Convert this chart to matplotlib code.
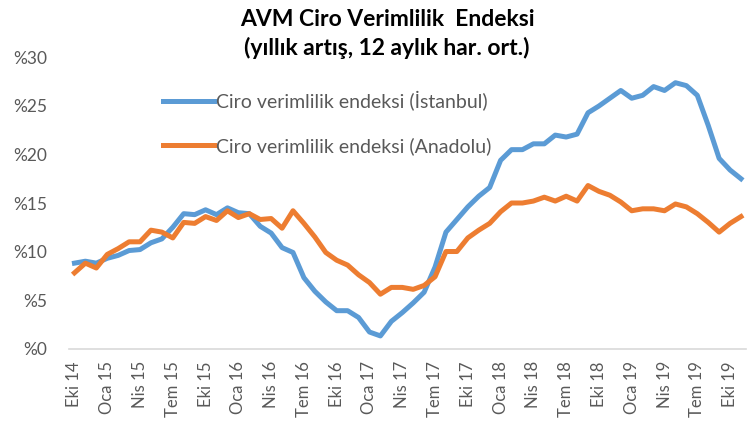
import numpy as np
import matplotlib
matplotlib.use("Agg")
import matplotlib.pyplot as plt

# monthly data, Eki 14 .. Kas 19
istanbul = [8.8, 9.0, 8.8, 9.3, 9.6, 10.1, 10.2, 10.9, 11.3, 12.5,
            13.9, 13.8, 14.3, 13.8, 14.5, 14.0, 13.9, 12.6, 11.9, 10.4,
            9.9, 7.3, 5.9, 4.8, 3.9, 3.9, 3.2, 1.7, 1.3, 2.8,
            3.7, 4.7, 5.8, 8.4, 12.0, 13.3, 14.6, 15.7, 16.6, 19.4,
            20.5, 20.5, 21.1, 21.1, 22.0, 21.8, 22.1, 24.3, 25.0, 25.8,
            26.6, 25.8, 26.1, 27.0, 26.6, 27.4, 27.1, 26.1, 23.0, 19.6,
            18.4, 17.5]
anadolu = [7.8, 8.8, 8.3, 9.7, 10.3, 11.0, 11.0, 12.2, 12.0, 11.4,
           13.0, 12.9, 13.6, 13.2, 14.2, 13.5, 13.9, 13.3, 13.4, 12.4,
           14.2, 12.9, 11.5, 9.9, 9.1, 8.6, 7.6, 6.8, 5.6, 6.3,
           6.3, 6.1, 6.5, 7.4, 10.0, 10.0, 11.4, 12.2, 12.9, 14.1,
           15.0, 15.0, 15.2, 15.6, 15.2, 15.7, 15.2, 16.8, 16.2, 15.8,
           15.1, 14.2, 14.4, 14.4, 14.2, 14.9, 14.6, 13.9, 13.0, 12.0,
           12.9, 13.6]
tick_labels = ["Eki 14", "Oca 15", "Nis 15", "Tem 15", "Eki 15", "Oca 16",
               "Nis 16", "Tem 16", "Eki 16", "Oca 17", "Nis 17", "Tem 17",
               "Eki 17", "Oca 18", "Nis 18", "Tem 18", "Eki 18", "Oca 19",
               "Nis 19", "Tem 19", "Eki 19"]
y_ticks = [0, 5, 10, 15, 20, 25, 30]

plt.rcParams['font.family'] = ['Lato', 'DejaVu Sans']
gray = "#595959"

fig = plt.figure(figsize=(7.54, 4.29), dpi=100)
ax = fig.add_axes([0.0915, 0.1876, 0.8985, 0.6784])

x = np.arange(len(istanbul))
ax.plot(x, istanbul, color="#5B9BD5", lw=3.6, solid_joinstyle="round",
        label="Ciro verimlilik endeksi (İstanbul)")
ax.plot(x, anadolu, color="#ED7D31", lw=3.6, solid_joinstyle="round",
        label="Ciro verimlilik endeksi (Anadolu)")

ax.set_xlim(-0.5, len(istanbul) - 0.5)
ax.set_ylim(0, 30)
ax.set_xticks(x[::3])
ax.set_xticklabels(tick_labels, rotation=90, fontsize=12, color=gray)
ax.set_yticks(y_ticks)
ax.set_yticklabels(["%" + str(v) for v in y_ticks], fontsize=12.5, color=gray)
ax.tick_params(axis="both", length=0)
ax.tick_params(axis="y", pad=16)
ax.tick_params(axis="x", pad=9)

for s in ["top", "right", "left"]:
    ax.spines[s].set_visible(False)
ax.spines["bottom"].set_color("#d9d9d9")
ax.spines["bottom"].set_linewidth(1.2)

leg = ax.legend(loc="upper left", bbox_to_anchor=(163 / 754, 1 - 91 / 429),
                bbox_transform=fig.transFigure, frameon=False, fontsize=14,
                handlelength=2.6, handletextpad=0.15, labelspacing=1.35,
                borderpad=0, borderaxespad=0)
for t in leg.get_texts():
    t.set_color(gray)

fig.text(387 / 754, 1 - 34 / 429,
         "AVM Ciro Verimlilik  Endeksi\n(yıllık artış, 12 aylık har. ort.)",
         ha="center", va="center", fontsize=16.5, fontweight="bold",
         linespacing=1.35)

fig.savefig("out.png", dpi=100)
